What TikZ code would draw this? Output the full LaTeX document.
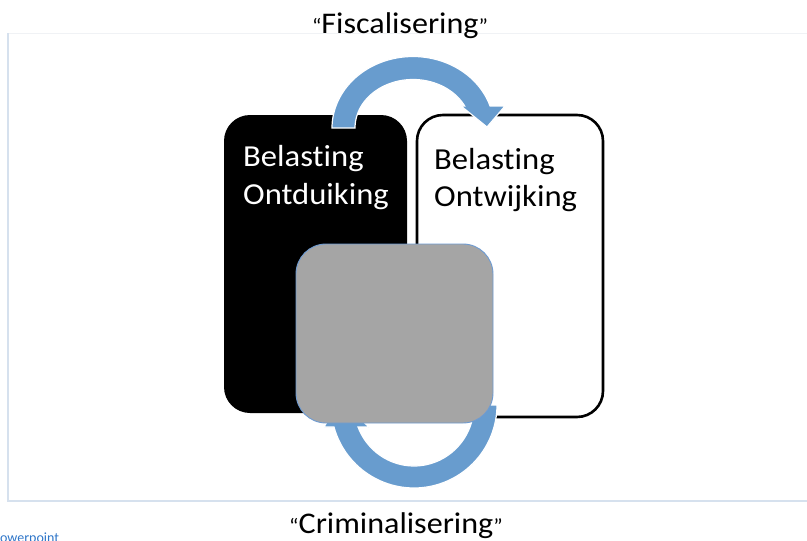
\documentclass[tikz,border=0pt]{standalone}
\usepackage{fontspec}
\setmainfont{Carlito}[Ligatures={NoCommon,NoRare}]
\newfontfamily\calfont[FakeStretch=1.07,Ligatures={NoCommon,NoRare}]{Carlito}
\newcommand{\smq}[1]{{\fontsize{21}{24}\selectfont #1}}
\definecolor{arrowblue}{RGB}{104,156,206}
\definecolor{grayfill}{RGB}{165,165,165}
\definecolor{grayedge}{RGB}{110,155,210}
\definecolor{framecol}{RGB}{214,225,238}
\definecolor{frametop}{RGB}{240,242,245}
\definecolor{linkblue}{RGB}{46,117,200}
\tikzset{
  box/.style={rounded corners=26pt, inner sep=0pt, outer sep=0pt},
  boxtext/.style={font=\calfont\fontsize{30.5}{36}\selectfont, inner sep=0pt, anchor=base west},
  title/.style={font=\calfont\fontsize{30}{34}\selectfont, inner sep=0pt, anchor=base},
  cyc/.style={fill=arrowblue, draw=white, line width=1.2pt, line join=miter}
}
\begin{document}
\begin{tikzpicture}[x=1pt,y=-1pt]
\useasboundingbox (0,0) rectangle (807,541);
\clip (0,0) rectangle (807,541);
% faint frame
\draw[frametop, line width=1pt] (8,33) -- (808,33);
\draw[framecol, line width=1.2pt] (8,33) -- (8,501) -- (808,501);
% boxes
\node[box, fill=black, minimum width=183pt, minimum height=298pt] (ontduik) at (315.5,264) {};
\node[box, draw=black, fill=white, line width=2.6pt, minimum width=186pt, minimum height=302pt] (ontwijk) at (510,266) {};
\node[boxtext, text=white] (od1) at (243,166) {Belasting};
\node[boxtext, text=white] (od2) at (243,204) {Ontduiking};
\node[boxtext, text=black] (ow1) at (434,169) {Belasting};
\node[boxtext, text=black] (ow2) at (434,206) {Ontwijking};
% bottom cycle arrow (under the grey box)
\filldraw[cyc]
  plot[domain=0:164.6, samples=60] ({414+83*cos(\x)},{405+83*sin(\x)})
  -- (324,427) -- (340,400) -- (369,427)
  -- plot[domain=158.9:0, samples=60] ({414+60*cos(\x)},{405+61*sin(\x)})
  -- cycle;
% grey box
\node[box, rounded corners=30pt, draw=grayedge, fill=grayfill, line width=0.9pt, minimum width=197pt, minimum height=179pt] (midden) at (394.5,333.5) {};
% top cycle arrow
\filldraw[cyc]
  plot[domain=180:342.1, samples=60] ({413+81*cos(\x)},{128+71.5*sin(\x)})
  -- (505,106) -- (487,127) -- (461,106)
  -- plot[domain=333:180, samples=60] ({413+58*cos(\x)},{128+48.5*sin(\x)})
  -- cycle;
% titles
\node[title] (fisc) at (400,33) {\smq{“}Fiscalisering\smq{”}};
\node[title] (crim) at (396,533) {\smq{“}Criminalisering\smq{”}};
% cut-off link text (cut off in the reference as well)
\node[font=\fontsize{14}{16}\selectfont, text=linkblue, inner sep=0pt, anchor=base west] (pp) at (-7,542) {Powerpoint};
\end{tikzpicture}
\end{document}
